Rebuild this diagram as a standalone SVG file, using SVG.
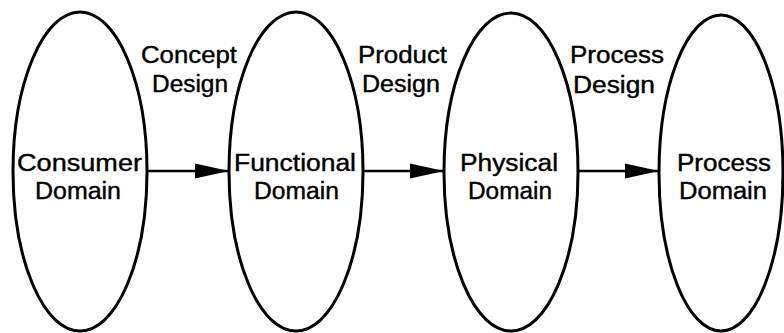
<svg xmlns="http://www.w3.org/2000/svg" width="784" height="333" viewBox="0 0 784 333">
<defs>
<style>
.dom{fill:none;stroke:#000;stroke-width:3}
.t{font-family:"Liberation Sans",Arial,sans-serif;font-size:23px;fill:#000;stroke:#000;stroke-width:0.4;text-anchor:start}
.edge{stroke:#000;stroke-width:2.5;fill:none}
</style>
<marker id="arr" markerUnits="userSpaceOnUse" markerWidth="36" markerHeight="18" refX="34" refY="9" orient="auto">
<path d="M0,1.5 L34,9 L0,16.5 Z" fill="#000"/>
</marker>
</defs>
<rect width="784" height="333" fill="#fff"/>
<g id="connectors">
<line class="edge" x1="147" y1="171" x2="229" y2="171" marker-end="url(#arr)"/>
<line class="edge" x1="363" y1="171" x2="444" y2="171" marker-end="url(#arr)"/>
<line class="edge" x1="578" y1="171" x2="659" y2="171" marker-end="url(#arr)"/>
</g>
<g id="consumer">
<ellipse class="dom" cx="80" cy="171.5" rx="67" ry="159.5"/>
<text class="t" x="17" y="171" textLength="125" lengthAdjust="spacingAndGlyphs">Consumer</text>
<text class="t" x="35" y="199" textLength="86" lengthAdjust="spacingAndGlyphs">Domain</text>
</g>
<g id="functional">
<ellipse class="dom" cx="296" cy="171.5" rx="67" ry="159.5"/>
<text class="t" x="234" y="171" textLength="122" lengthAdjust="spacingAndGlyphs">Functional</text>
<text class="t" x="254" y="199" textLength="85" lengthAdjust="spacingAndGlyphs">Domain</text>
</g>
<g id="physical">
<ellipse class="dom" cx="511" cy="172" rx="67" ry="159"/>
<text class="t" x="460" y="171" textLength="98" lengthAdjust="spacingAndGlyphs">Physical</text>
<text class="t" x="468" y="199" textLength="84" lengthAdjust="spacingAndGlyphs">Domain</text>
</g>
<g id="process">
<ellipse class="dom" cx="721" cy="173" rx="62" ry="158"/>
<text class="t" x="677" y="171" textLength="94" lengthAdjust="spacingAndGlyphs">Process</text>
<text class="t" x="679" y="199" textLength="88" lengthAdjust="spacingAndGlyphs">Domain</text>
</g>
<g id="label-concept">
<text class="t" x="141" y="63" textLength="96" lengthAdjust="spacingAndGlyphs">Concept</text>
<text class="t" x="152" y="92" textLength="76" lengthAdjust="spacingAndGlyphs">Design</text>
</g>
<g id="label-product">
<text class="t" x="358" y="63" textLength="89" lengthAdjust="spacingAndGlyphs">Product</text>
<text class="t" x="362" y="92" textLength="78" lengthAdjust="spacingAndGlyphs">Design</text>
</g>
<g id="label-process">
<text class="t" x="570" y="63" textLength="94" lengthAdjust="spacingAndGlyphs">Process</text>
<text class="t" x="573" y="93" textLength="82" lengthAdjust="spacingAndGlyphs">Design</text>
</g>
</svg>
